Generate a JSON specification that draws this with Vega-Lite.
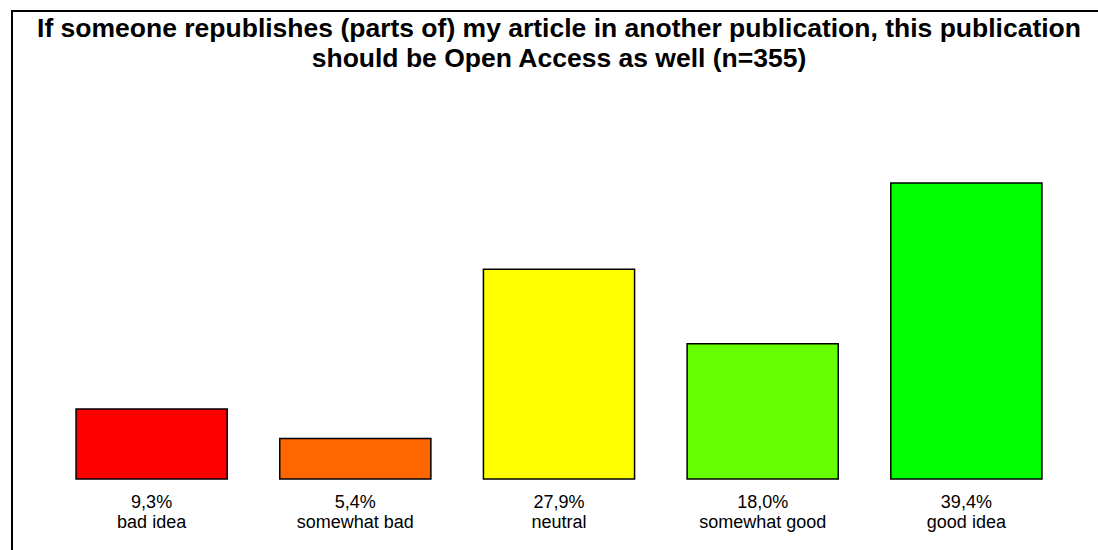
{
  "$schema": "https://vega.github.io/schema/vega-lite/v6.json",
  "autosize": {"type": "none"},
  "padding": {"left": 12, "top": 11, "right": -8, "bottom": -2},
  "width": 1094,
  "height": 541,
  "background": "white",
  "config": {
    "view": {"stroke": "black", "strokeWidth": 2},
    "locale": {"number": {"decimal": ",", "thousands": ".", "grouping": [3], "currency": ["", " €"]}}
  },
  "title": {
    "text": ["If someone republishes (parts of) my article in another publication, this publication", "should be Open Access as well (n=355)"],
    "font": "Liberation Sans",
    "fontSize": 26.5,
    "fontWeight": "bold",
    "color": "black",
    "anchor": "middle",
    "baseline": "top",
    "lineHeight": 30,
    "offset": -61
  },
  "data": {
    "values": [
      {"category": "bad idea", "pct": 9.3},
      {"category": "somewhat bad", "pct": 5.4},
      {"category": "neutral", "pct": 27.9},
      {"category": "somewhat good", "pct": 18.0},
      {"category": "good idea", "pct": 39.4}
    ]
  },
  "transform": [
    {"calculate": "format(datum.pct, '.1f') + '%'", "as": "label"}
  ],
  "encoding": {
    "x": {
      "field": "category",
      "type": "nominal",
      "sort": null,
      "axis": null,
      "scale": {"paddingInner": 0.258, "paddingOuter": 0.3145}
    }
  },
  "layer": [
    {
      "mark": {"type": "bar", "stroke": "black", "strokeWidth": 1.5},
      "encoding": {
        "y": {"field": "pct", "type": "quantitative", "axis": null, "scale": {"domain": [-9.72, 62.29], "nice": false, "zero": false}},
        "y2": {"datum": 0},
        "color": {
          "field": "category",
          "type": "nominal",
          "legend": null,
          "scale": {
            "domain": ["bad idea", "somewhat bad", "neutral", "somewhat good", "good idea"],
            "range": ["#FF0000", "#FF6600", "#FFFF00", "#66FF00", "#00FF00"]
          }
        }
      }
    },
    {
      "mark": {"type": "text", "font": "Liberation Sans", "fontSize": 18, "color": "black", "baseline": "middle", "dy": 24},
      "encoding": {
        "y": {"datum": 0},
        "text": {"field": "label"}
      }
    },
    {
      "mark": {"type": "text", "font": "Liberation Sans", "fontSize": 18, "color": "black", "baseline": "middle", "dy": 44},
      "encoding": {
        "y": {"datum": 0},
        "text": {"field": "category"}
      }
    }
  ]
}
